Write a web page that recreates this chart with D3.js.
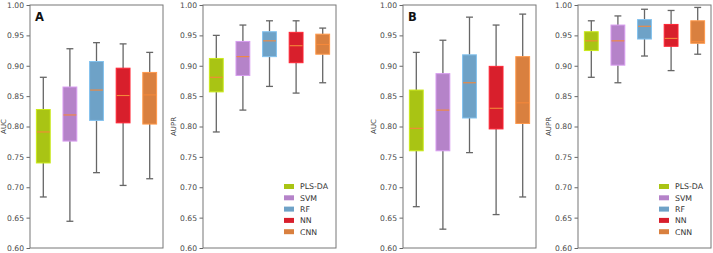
<!DOCTYPE html>
<html>
<head>
<meta charset="utf-8">
<script src="https://cdn.jsdelivr.net/npm/d3@7"></script>
<style>
  body { margin: 0; background: #fff; }
  text { font-family: 'DejaVu Sans', sans-serif; }
</style>
</head>
<body>
<div class="canvas"></div>
<script>
// models and colours
const models = ['PLS-DA', 'SVM', 'RF', 'NN', 'CNN'];
const colors = ['#a9c414', '#b583c9', '#6ea2c7', '#d81f2c', '#d9803f'];
const yTicks = [0.60, 0.65, 0.70, 0.75, 0.80, 0.85, 0.90, 0.95, 1.00];

// [min, q1, median, q3, max] for each model
const aucA = [
	[0.684, 0.740, 0.791, 0.828, 0.881],
	[0.644, 0.776, 0.819, 0.865, 0.928],
	[0.724, 0.810, 0.860, 0.907, 0.938],
	[0.703, 0.806, 0.851, 0.896, 0.936],
	[0.714, 0.804, 0.852, 0.889, 0.922]
];
const auprA = [
	[0.791, 0.857, 0.881, 0.912, 0.950],
	[0.827, 0.884, 0.915, 0.940, 0.967],
	[0.866, 0.915, 0.941, 0.956, 0.974],
	[0.855, 0.905, 0.933, 0.955, 0.974],
	[0.872, 0.919, 0.935, 0.952, 0.962]
];
const aucB = [
	[0.668, 0.760, 0.797, 0.860, 0.922],
	[0.631, 0.760, 0.827, 0.887, 0.942],
	[0.757, 0.814, 0.872, 0.918, 0.980],
	[0.655, 0.796, 0.830, 0.899, 0.967],
	[0.684, 0.805, 0.839, 0.915, 0.985]
];
const auprB = [
	[0.881, 0.925, 0.941, 0.956, 0.974],
	[0.872, 0.901, 0.941, 0.967, 0.982],
	[0.916, 0.944, 0.965, 0.976, 0.993],
	[0.892, 0.932, 0.945, 0.968, 0.991],
	[0.919, 0.937, 0.940, 0.974, 0.996]
];

const svg = d3.select('.canvas')
	.append('svg')
	.attr('width', 713)
	.attr('height', 253);

const marginTop = 5;
const graphWidth = 133;
const graphHeight = 243;

const y = d3.scaleLinear()
	.domain([0.6, 1.0])
	.range([graphHeight, 0]);

const x = d3.scaleBand()
	.domain(models)
	.range([0, graphWidth]);

const panels = [
	{ left: 30, data: aucA, label: 'AUC', letter: 'A', legend: false },
	{ left: 203, data: auprA, label: 'AUPR', letter: null, legend: true },
	{ left: 403, data: aucB, label: 'AUC', letter: 'B', legend: false },
	{ left: 578, data: auprB, label: 'AUPR', letter: null, legend: true }
];

panels.forEach((p, pi) => {
	const graph = svg.append('g')
		.attr('transform', `translate(${p.left},${marginTop})`);

	// y axis
	const yAxis = d3.axisLeft(y)
		.tickValues(yTicks)
		.tickSize(3.5)
		.tickPadding(2.5)
		.tickFormat(d3.format('.2f'));
	const yAxisGroup = graph.append('g').call(yAxis);
	yAxisGroup.select('.domain').remove();
	yAxisGroup.selectAll('line').attr('stroke', '#666');
	yAxisGroup.selectAll('text')
		.attr('fill', '#4a4a4a')
		.attr('font-size', '7.6px')
		.style('font-family', "'DejaVu Sans', sans-serif");

	// axis label (first one sits right at the page edge)
	const labelX = pi === 0 ? -24 : -27;
	graph.append('text')
		.attr('transform', `translate(${labelX},${graphHeight / 2}) rotate(-90)`)
		.attr('text-anchor', 'middle')
		.attr('fill', '#444')
		.attr('font-size', '7px')
		.text(p.label);

	const bw = x.bandwidth() * 0.52;
	const cap = bw / 2;

	const boxes = graph.selectAll('g.box')
		.data(p.data)
		.enter()
		.append('g')
		.attr('class', 'box')
		.attr('transform', (d, i) => `translate(${x(models[i]) + x.bandwidth() / 2},0)`);

	// whiskers
	boxes.append('line')
		.attr('x1', 0).attr('x2', 0)
		.attr('y1', d => y(d[0])).attr('y2', d => y(d[1]))
		.attr('stroke', '#666').attr('stroke-width', 1.3);
	boxes.append('line')
		.attr('x1', 0).attr('x2', 0)
		.attr('y1', d => y(d[3])).attr('y2', d => y(d[4]))
		.attr('stroke', '#666').attr('stroke-width', 1.3);
	// caps
	boxes.append('line')
		.attr('x1', -cap / 2).attr('x2', cap / 2)
		.attr('y1', d => y(d[0])).attr('y2', d => y(d[0]))
		.attr('stroke', '#666').attr('stroke-width', 1.3);
	boxes.append('line')
		.attr('x1', -cap / 2).attr('x2', cap / 2)
		.attr('y1', d => y(d[4])).attr('y2', d => y(d[4]))
		.attr('stroke', '#666').attr('stroke-width', 1.3);

	// boxes
	boxes.append('rect')
		.attr('x', -bw / 2)
		.attr('width', bw)
		.attr('y', d => y(d[3]))
		.attr('height', d => y(d[1]) - y(d[3]))
		.attr('fill', (d, i) => colors[i])
		.attr('stroke', (d, i) => d3.color(colors[i]).brighter(0.5))
		.attr('stroke-width', 1);

	// medians
	boxes.append('line')
		.attr('x1', -bw / 2 + 0.5).attr('x2', bw / 2 - 0.5)
		.attr('y1', d => y(d[2])).attr('y2', d => y(d[2]))
		.attr('stroke', '#f5883a').attr('stroke-width', 1.1);

	// frame
	graph.append('rect')
		.attr('width', graphWidth)
		.attr('height', graphHeight)
		.attr('fill', 'none')
		.attr('stroke', '#777')
		.attr('stroke-width', 1);

	if (p.letter) {
		graph.append('text')
			.attr('x', 5)
			.attr('y', 16)
			.attr('font-size', '11.5px')
			.attr('font-weight', 'bold')
			.attr('fill', '#111')
			.text(p.letter);
	}

	if (p.legend) {
		const legend = graph.selectAll('g.legend')
			.data(models)
			.enter()
			.append('g')
			.attr('class', 'legend')
			.attr('transform', (d, i) => `translate(${graphWidth - 52},${186.5 + i * 11.3 - marginTop})`);
		legend.append('rect')
			.attr('x', 0).attr('y', -2.5)
			.attr('width', 10).attr('height', 5)
			.attr('fill', (d, i) => colors[i]);
		legend.append('text')
			.attr('x', 16)
			.attr('y', 2.8)
			.attr('font-size', '7.8px')
			.attr('fill', '#333')
			.text(d => d);
	}
});
</script>
</body>
</html>
